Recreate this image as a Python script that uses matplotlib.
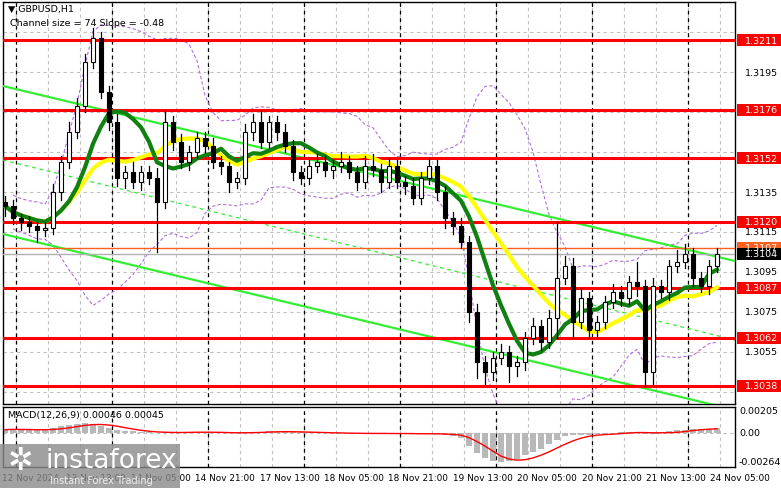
import matplotlib
matplotlib.use("Agg")
import matplotlib.pyplot as plt
import numpy as np
import pandas as pd
from matplotlib.patches import Rectangle

closes = [1.3128,1.3122,1.3120,1.3118,1.3116,1.3117,1.3135,1.3150,1.3165,1.3178,
          1.3200,1.3212,1.3185,1.3170,1.3142,1.3145,1.3140,1.3145,1.3142,1.3130,
          1.3170,1.3160,1.3150,1.3155,1.3162,1.3158,1.3150,1.3148,1.3140,1.3142,
          1.3165,1.3170,1.3160,1.3170,1.3165,1.3158,1.3145,1.3142,1.3148,1.3150,
          1.3146,1.3148,1.3150,1.3145,1.3140,1.3148,1.3146,1.3140,1.3148,1.3140,
          1.3138,1.3132,1.3142,1.3148,1.3135,1.3122,1.3118,1.3110,1.3075,1.3050,
          1.3045,1.3052,1.3055,1.3048,1.3050,1.3062,1.3068,1.3060,1.3072,1.3092,
          1.3098,1.3070,1.3082,1.3066,1.3070,1.3080,1.3085,1.3082,1.3090,1.3088,
          1.3045,1.3088,1.3085,1.3098,1.3100,1.3104,1.3092,1.3088,1.3098,1.3104]
wick_up = [3,3,2,3,2,3,4,3,5,4, 4,5,3,3,4,3,5,3,3,5, 6,3,4,3,3,3,4,3,2,3,
           4,4,6,3,3,4,3,3,3,4, 3,3,5,3,3,5,6,3,4,3, 3,4,3,4,3,3,3,4,3,4,
           3,3,4,3,3,3,4,3,4,28, 5,4,5,3,3,3,4,3,3,10, 3,4,3,3,6,5,3,3,3,3]
wick_dn = [5,3,4,3,6,3,3,4,3,3, 3,3,3,4,4,5,3,4,3,25, 3,4,3,4,3,3,3,4,5,3,
           3,4,3,3,4,3,4,3,3,3, 3,4,3,3,4,3,3,5,3,3, 4,3,3,3,4,5,4,3,5,8,
           6,4,3,8,5,4,3,4,3,10, 3,8,3,4,3,3,3,4,3,5, 7,6,3,4,3,3,4,3,4,3]
macd_hist = [30,35,30,28,25,30,45,60,70,80,85,80,65,45,30,20,15,10,5,0,
             5,5,8,10,8,5,3,2,0,0,5,10,12,15,12,10,8,5,5,3,0,
             -3,-3,-2,-3,-5,-5,-3,-5,-5,-5,-8,-10,-8,-5,-15,-25,-40,-120,-180,-220,
             -250,-260,-250,-230,-200,-170,-140,-100,-60,-30,-20,-20,-15,-10,-5,0,
             5,10,10,-5,-10,5,15,25,30,35,40,40,45]
levels = [1.3211,1.3176,1.3152,1.3120,1.3087,1.3062,1.3038]
price_ticks = [1.3035,1.3055,1.3075,1.3095,1.3115,1.3135,1.3155,1.3175,1.3195,1.3215]
xlabels = ["12 Nov 2024","13 Nov 13:00","14 Nov 05:00","14 Nov 21:00","17 Nov 13:00",
           "18 Nov 05:00","18 Nov 21:00","19 Nov 13:00","20 Nov 05:00","20 Nov 21:00",
           "21 Nov 13:00","24 Nov 05:00"]

W, H = 781, 489
fig = plt.figure(figsize=(W/100, H/100), dpi=100)
fig.patch.set_facecolor("white")
plt.rcParams['font.family'] = ['DejaVu Sans']
FS = 6.8

def fx(px): return px / W
def fy(py): return 1 - py / H

ax = fig.add_axes([fx(3), fy(405), fx(732), 402/H])
mx = fig.add_axes([fx(3), fy(468), fx(732), 60/H])
n = len(closes)
idx = np.arange(n)
xl = (-0.25, 91.25)
for a in (ax, mx):
    a.set_xlim(*xl)
    a.set_xticks([]); a.set_yticks([])
    for s in a.spines.values():
        s.set_color("black"); s.set_linewidth(1)
ax.set_ylim(1.3029, 1.3230)
mx.set_ylim(-0.00303, 0.00232)

for p in price_ticks:
    ax.axhline(p, color="#c0c0c0", lw=0.8, ls=(0, (3, 3)), zorder=0)
for k in np.arange(1.4 - 4, 92, 4):
    for a in (ax, mx):
        a.axvline(k, color="#c0c0c0", lw=0.8, ls=(0, (3, 3)), zorder=0)
for k in np.arange(1.4, 92, 12):
    for a in (ax, mx):
        a.axvline(k, color="black", lw=0.9, ls=(0, (3, 3)), zorder=1)
mx.axhline(0, color="#c0c0c0", lw=0.8, ls=(0, (3, 3)), zorder=0)

c = pd.Series(closes)
opens = [1.3130] + closes[:-1]
ma_fast = c.rolling(8, min_periods=1).mean()
ma_slow = c.rolling(16, min_periods=1).mean()
bb_m = c.rolling(14, min_periods=2).mean()
bb_s = c.rolling(14, min_periods=2).std()
ax.plot(idx, bb_m + 2*bb_s, color="#b070e0", lw=0.8, ls=(0, (3, 2)), zorder=2)
ax.plot(idx, bb_m - 2*bb_s, color="#b070e0", lw=0.8, ls=(0, (3, 2)), zorder=2)

cx = np.array([xl[0], xl[1]])
ax.plot(cx, [1.3188, 1.31005], color="#33ee33", lw=1.6, zorder=3)
ax.plot(cx, [1.3114, 1.3026], color="#33ee33", lw=1.6, zorder=3)
ax.plot(cx, [1.3151, 1.3061], color="#33ee33", lw=0.9, ls=(0, (3, 3)), zorder=3)

for lv in levels:
    ax.axhline(lv, color="#ff0000", lw=2.2, zorder=4)
ax.axhline(1.3107, color="#ff6020", lw=1, zorder=4)
ax.axhline(1.3104, color="#b0b0b0", lw=1, zorder=4)

ax.plot(idx, ma_slow, color="#ffff00", lw=3, zorder=5)
ax.plot(idx, ma_fast, color="#108010", lw=3, zorder=6)

PIP = 1e-4
for i in range(n):
    o, cl = opens[i], closes[i]
    hi = max(o, cl) + wick_up[i] * PIP
    lo = min(o, cl) - wick_dn[i] * PIP
    ax.plot([i, i], [lo, hi], color="black", lw=0.9, zorder=7)
    bot, top = min(o, cl), max(o, cl)
    h = max(top - bot, 0.00003)
    ax.add_patch(Rectangle((i - 0.22, bot), 0.44, h,
                           facecolor="white" if cl >= o else "black",
                           edgecolor="black", lw=0.8, zorder=8))

hv = np.array(macd_hist) * 1e-5
mx.bar(idx, hv, width=0.7, color="#b8b8b8", zorder=2)
sig = pd.Series(hv).rolling(5, min_periods=1).mean()
mx.plot(idx, sig, color="#ff0000", lw=1, zorder=3)

fig.text(fx(8), fy(9), "▼ GBPUSD,H1", fontsize=FS, va="center")
fig.text(fx(10), fy(24), "Channel size = 74 Slope = -0.48", fontsize=FS, va="center")
fig.text(fx(8), fy(416), "MACD(12,26,9) 0.00046 0.00045", fontsize=FS, va="center")

def price_to_py(p): return 41 + (1.3211 - p) / 0.00005
boxed = levels + [1.3107, 1.3104]
for p in price_ticks:
    py = price_to_py(p)
    if 5 < py < 400 and min(abs(p - b) for b in boxed) > 0.00045:
        fig.text(fx(745), fy(py), f"{p:.4f}", fontsize=FS, va="center")
for lv in boxed:
    py = price_to_py(lv)
    col = {1.3107: "#ff6020", 1.3104: "black"}.get(lv, "#ff0000")
    fig.patches.append(Rectangle((fx(737), fy(py + 6)), fx(44), 12/H,
                                 transform=fig.transFigure, facecolor=col,
                                 edgecolor="none", zorder=5))
    fig.text(fx(745), fy(py), f"{lv:.4f}", fontsize=FS, va="center",
             color="white", zorder=6)
for v, py in [(0.00205, 411), (0.0, 434), (-0.00264, 463)]:
    fig.text(fx(739), fy(py), "0.00" if v == 0 else f"{v:.5f}", fontsize=FS, va="center")

for k, lab in enumerate(xlabels):
    px = 5 + 64.4 * k - 3
    fig.text(fx(px), fy(479), lab, fontsize=6.4, va="center")

fig.patches.append(Rectangle((0, 0), fx(180), 44/H, transform=fig.transFigure,
                             facecolor="#8a8a8a", alpha=0.8, edgecolor="none", zorder=9))
fig.text(fx(8), fy(462), "✲", fontsize=22, color="white", va="center", zorder=10)
fig.text(fx(45), fy(461), "instaforex", fontsize=19, color="white", va="center", zorder=10)
fig.text(fx(50), fy(481), "Instant Forex Trading", fontsize=7, color="#eeeeee", va="center", zorder=10)

fig.savefig("out.png", dpi=100)
